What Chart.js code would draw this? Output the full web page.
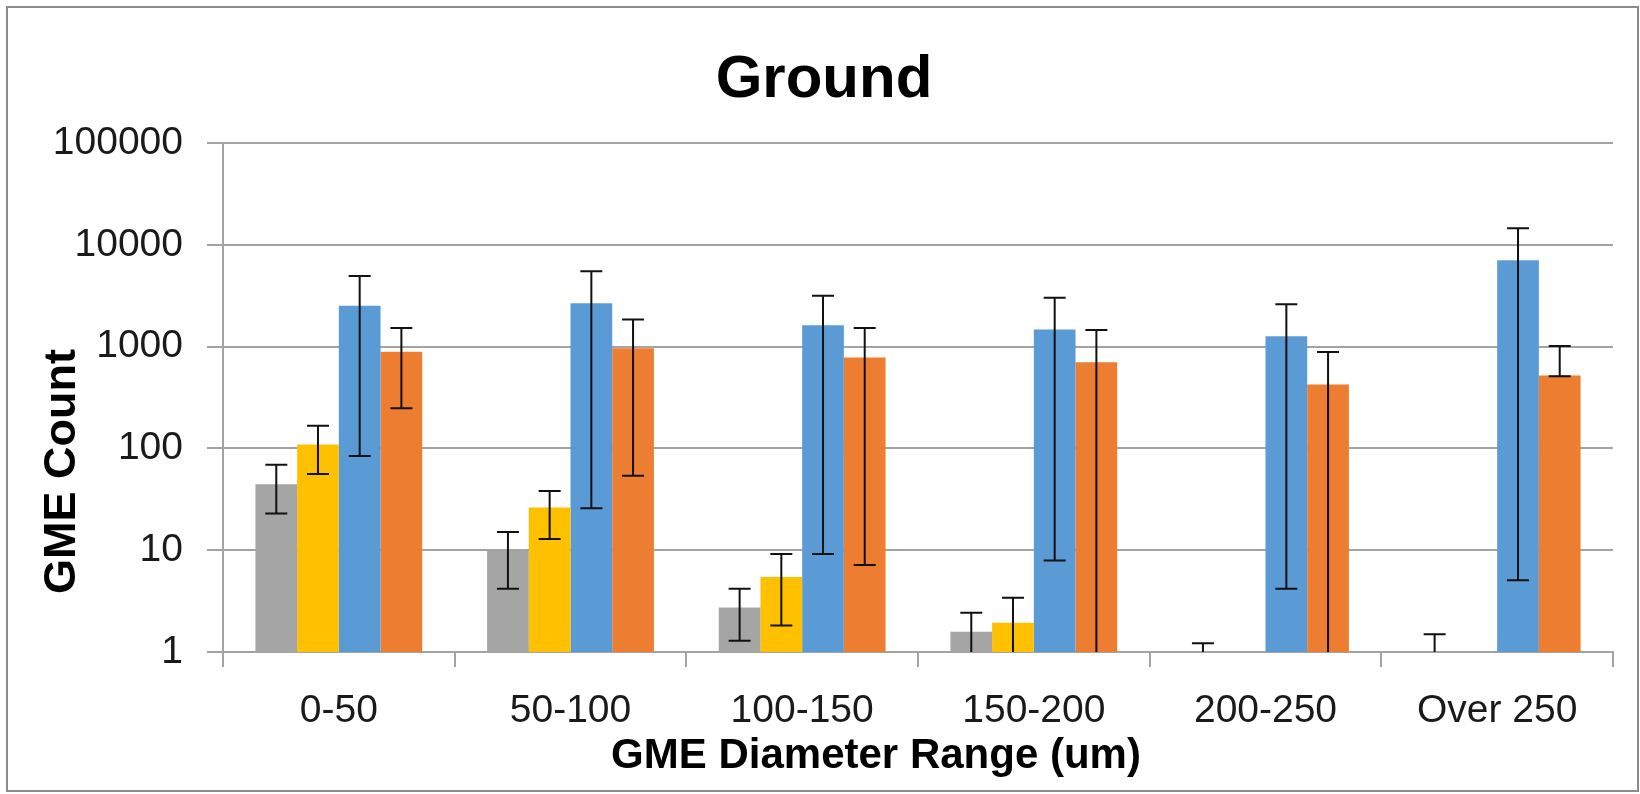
<!DOCTYPE html>
<html>
<head>
<meta charset="utf-8">
<script src="https://cdn.jsdelivr.net/npm/chart.js@4.4.1/dist/chart.umd.min.js"></script>
<style>
  html, body { margin: 0; padding: 0; background: #ffffff; }
  #wrap { position: relative; width: 1640px; height: 794px; }
  #frame { position: absolute; left: 6px; top: 6px; width: 1633px; height: 786px; box-sizing: border-box; border: 2px solid #8c8c8c; pointer-events: none; }
  canvas { position: absolute; left: 0; top: 0; }
</style>
</head>
<body>
<div id="wrap">
  <canvas id="c" width="1640" height="794"></canvas>
  <div id="frame"></div>
</div>
<script>
const categories = ['0-50', '50-100', '100-150', '150-200', '200-250', 'Over 250'];
const yTickValues = [1, 10, 100, 1000, 10000, 100000];

const grayValues   = [44.5, 10.2, 2.73, 1.58, 0.4, 0.4];
const grayHigh     = [69, 15.1, 4.19, 2.43, 1.22, 1.49];
const grayLow      = [23, 4.19, 1.29, 0, 0, 0];

const yellowValues = [109, 26.2, 5.45, 1.94, null, null];
const yellowHigh   = [167, 38.1, 9.18, 3.42, null, null];
const yellowLow    = [56, 12.9, 1.82, 0, null, null];

const blueValues   = [2523, 2666, 1619, 1475, 1262, 7047];
const blueHigh     = [4930, 5496, 3162, 3020, 2604, 14530];
const blueLow      = [84, 25.8, 9.18, 7.92, 4.19, 5.08];

const orangeValues = [890, 962, 780, 700, 425, 520];
const orangeHigh   = [1522, 1849, 1522, 1452, 883, 1016];
const orangeLow    = [248, 54, 7.16, 0, 0, 512];

const errHigh = [grayHigh, yellowHigh, blueHigh, orangeHigh];
const errLow  = [grayLow, yellowLow, blueLow, orangeLow];

const gridColor = '#a3a3a3';
const FONT = "'Liberation Sans', Arial, sans-serif";

const errorBarPlugin = {
  id: 'errorBars',
  afterDatasetsDraw(chart) {
    const ctx = chart.ctx;
    const y = chart.scales.y;
    const area = chart.chartArea;
    ctx.save();
    ctx.beginPath();
    ctx.rect(area.left, area.top - 40, area.right - area.left, area.bottom - area.top + 40);
    ctx.clip();
    ctx.strokeStyle = '#111111';
    ctx.lineWidth = 2;
    chart.data.datasets.forEach((ds, di) => {
      const meta = chart.getDatasetMeta(di);
      meta.data.forEach((bar, i) => {
        const hi = errHigh[di][i];
        const lo = errLow[di][i];
        if (hi == null) return;
        const x = bar.x;
        const yHi = y.getPixelForValue(hi);
        const loVisible = lo != null && lo >= y.min;
        const yLo = loVisible ? y.getPixelForValue(lo) : area.bottom;
        const half = 11;
        ctx.beginPath();
        ctx.moveTo(x, yHi);
        ctx.lineTo(x, yLo);
        ctx.moveTo(x - half, yHi);
        ctx.lineTo(x + half, yHi);
        if (loVisible) {
          ctx.moveTo(x - half, yLo);
          ctx.lineTo(x + half, yLo);
        }
        ctx.stroke();
      });
    });
    ctx.restore();
  }
};

function shiftTitle(scale, dx, dy) {
  if (!scale || scale._titleShifted) return;
  const orig = scale.drawTitle;
  scale.drawTitle = function () {
    this.ctx.save();
    this.ctx.translate(dx, dy);
    orig.apply(this, arguments);
    this.ctx.restore();
  };
  scale._titleShifted = true;
}

const titleShiftPlugin = {
  id: 'titleShift',
  beforeDraw(chart) {
    shiftTitle(chart.scales.x, -42, 0);
    shiftTitle(chart.scales.y, 0, 74);
  }
};

const mkDs = (label, data, color) => ({
  label, data, backgroundColor: color, borderWidth: 0, clip: 0,
  categoryPercentage: 0.72, barPercentage: 1.0
});

new Chart(document.getElementById('c'), {
  type: 'bar',
  data: {
    labels: categories,
    datasets: [
      mkDs('Series 1', grayValues, '#a5a5a5'),
      mkDs('Series 2', yellowValues, '#ffc000'),
      mkDs('Series 3', blueValues, '#5b9bd5'),
      mkDs('Series 4', orangeValues, '#ed7d31')
    ]
  },
  options: {
    responsive: false,
    devicePixelRatio: 1,
    animation: false,
    layout: { padding: { left: 35, right: 27, top: 10, bottom: 0 } },
    plugins: {
      legend: { display: false },
      tooltip: { enabled: false },
      title: {
        display: true,
        text: 'Ground',
        color: '#000000',
        font: { family: FONT, size: 60, weight: 'bold' },
        padding: { top: 34, bottom: 27 }
      }
    },
    scales: {
      x: {
        type: 'category',
        offset: true,
        afterFit(s) { s.height = 142; },
        grid: {
          display: true, offset: true, drawOnChartArea: false, drawTicks: true,
          tickLength: 15, color: gridColor, lineWidth: 2
        },
        border: { display: true, color: gridColor, width: 2 },
        ticks: {
          color: '#1a1a1a', padding: 21,
          font: { family: FONT, size: 39 }
        },
        title: {
          display: true,
          text: 'GME Diameter Range (um)',
          color: '#000000',
          font: { family: FONT, size: 42, weight: 'bold' },
          padding: { top: 0, bottom: 12 }
        }
      },
      y: {
        type: 'logarithmic',
        min: 1,
        max: 100000,
        afterFit(s) { s.width = 188; },
        afterBuildTicks(s) { s.ticks = yTickValues.map(v => ({ value: v })); },
        grid: {
          display: true, drawTicks: true, tickLength: 16,
          color: gridColor, lineWidth: 2
        },
        border: { display: true, color: gridColor, width: 2 },
        ticks: {
          color: '#1a1a1a', padding: 24,
          font: { family: FONT, size: 39 },
          callback: (v) => String(v)
        },
        title: {
          display: true,
          text: 'GME Count',
          color: '#000000',
          font: { family: FONT, size: 45, weight: 'bold' },
          padding: { top: 1, bottom: 0 }
        }
      }
    }
  },
  plugins: [errorBarPlugin, titleShiftPlugin]
});
</script>
</body>
</html>
